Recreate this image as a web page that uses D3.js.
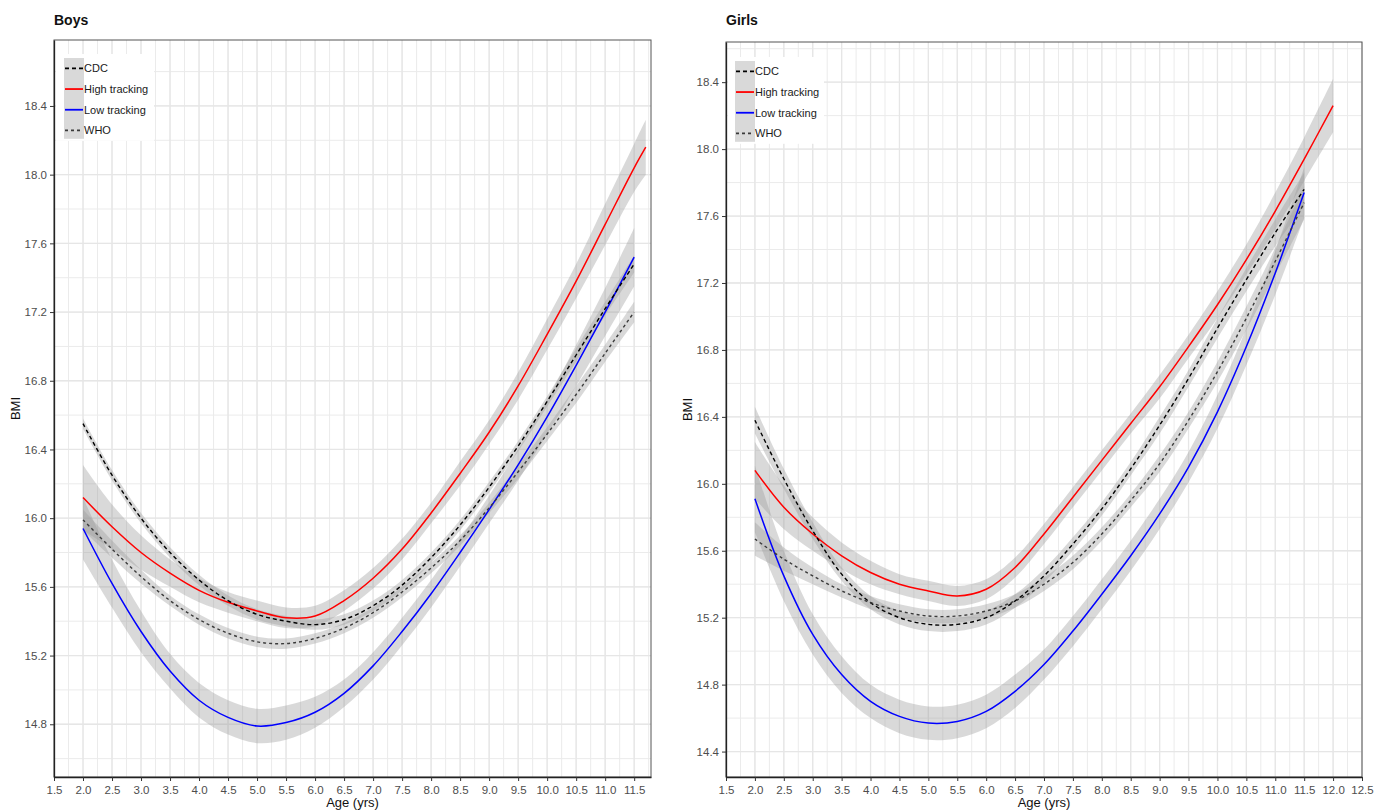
<!DOCTYPE html>
<html><head><meta charset="utf-8">
<script src="https://cdn.jsdelivr.net/npm/d3@7"></script>
<style>
html,body{margin:0;padding:0;background:#fff;}
svg{display:block;font-family:"Liberation Sans",Arial,sans-serif;}
</style></head>
<body>
<svg id="chart" width="1384" height="810"></svg>
<script>
// ---------------- DATA ----------------
const seriesNames = ["CDC", "High tracking", "Low tracking", "WHO"];

const boysAges = [2.0,2.5,3.0,3.5,4.0,4.5,5.0,5.5,6.0,6.5,7.0,7.5,8.0,8.5,9.0,9.5,10.0,10.5,11.0,11.5];
const boysHighAges = [2.0,2.5,3.0,3.5,4.0,4.5,5.0,5.5,6.0,6.5,7.0,7.5,8.0,8.5,9.0,9.5,10.0,10.5,11.0,11.5,11.7];
const boysHigh   = [16.12,15.95,15.80,15.68,15.58,15.51,15.46,15.42,15.43,15.52,15.65,15.82,16.03,16.26,16.50,16.77,17.07,17.38,17.71,18.04,18.16];
const boysHighSE = [0.19,0.13,0.10,0.08,0.07,0.06,0.06,0.06,0.06,0.06,0.06,0.06,0.06,0.07,0.07,0.08,0.09,0.10,0.12,0.14,0.16];
const boysLow    = [15.94,15.62,15.34,15.11,14.94,14.84,14.79,14.81,14.87,14.98,15.14,15.34,15.56,15.80,16.05,16.31,16.59,16.89,17.20,17.52];
const boysLowSE  = [0.18,0.14,0.12,0.10,0.10,0.10,0.10,0.10,0.09,0.08,0.08,0.08,0.08,0.08,0.08,0.09,0.10,0.12,0.14,0.17];
const boysCDC    = [16.55,16.25,16.00,15.80,15.64,15.52,15.44,15.40,15.38,15.41,15.49,15.61,15.77,15.96,16.18,16.42,16.68,16.95,17.22,17.48];
const boysCDCSE  = [0.03,0.03,0.03,0.03,0.03,0.03,0.03,0.03,0.03,0.03,0.03,0.03,0.03,0.03,0.03,0.03,0.03,0.04,0.04,0.05];
const boysWHO    = [15.99,15.82,15.66,15.52,15.41,15.33,15.28,15.27,15.30,15.36,15.45,15.57,15.71,15.87,16.06,16.27,16.49,16.72,16.96,17.20];
const boysWHOSE  = [0.06,0.05,0.04,0.03,0.03,0.03,0.03,0.03,0.03,0.03,0.03,0.03,0.03,0.03,0.03,0.04,0.04,0.05,0.05,0.06];

const girlsAges = [2.0,2.5,3.0,3.5,4.0,4.5,5.0,5.5,6.0,6.5,7.0,7.5,8.0,8.5,9.0,9.5,10.0,10.5,11.0,11.5];
const girlsHighAges = [2.0,2.5,3.0,3.5,4.0,4.5,5.0,5.5,6.0,6.5,7.0,7.5,8.0,8.5,9.0,9.5,10.0,10.5,11.0,11.5,12.0];
const girlsHigh   = [16.08,15.86,15.70,15.57,15.47,15.40,15.36,15.33,15.37,15.50,15.70,15.92,16.14,16.36,16.58,16.82,17.07,17.34,17.63,17.94,18.26];
const girlsHighSE = [0.17,0.13,0.10,0.08,0.07,0.06,0.06,0.06,0.06,0.06,0.06,0.06,0.06,0.06,0.07,0.07,0.08,0.09,0.11,0.13,0.16];
const girlsLow    = [15.91,15.45,15.10,14.86,14.70,14.61,14.57,14.58,14.64,14.76,14.92,15.12,15.34,15.57,15.82,16.10,16.43,16.82,17.26,17.74];
const girlsLowSE  = [0.20,0.15,0.12,0.11,0.10,0.10,0.10,0.10,0.10,0.10,0.09,0.09,0.09,0.09,0.09,0.09,0.10,0.11,0.13,0.15];
const girlsCDC    = [16.38,16.03,15.72,15.46,15.29,15.20,15.16,15.16,15.20,15.30,15.45,15.64,15.85,16.09,16.35,16.63,16.93,17.22,17.50,17.76];
const girlsCDCSE  = [0.08,0.06,0.05,0.04,0.04,0.04,0.04,0.04,0.04,0.04,0.04,0.04,0.04,0.04,0.05,0.05,0.06,0.07,0.08,0.10];
const girlsWHO    = [15.67,15.55,15.45,15.36,15.29,15.24,15.21,15.21,15.24,15.30,15.40,15.53,15.70,15.90,16.12,16.38,16.67,16.99,17.33,17.68];
const girlsWHOSE  = [0.10,0.07,0.05,0.04,0.04,0.04,0.04,0.04,0.04,0.04,0.04,0.04,0.04,0.04,0.05,0.05,0.06,0.07,0.08,0.10];

const boysXTicks  = [1.5,2.0,2.5,3.0,3.5,4.0,4.5,5.0,5.5,6.0,6.5,7.0,7.5,8.0,8.5,9.0,9.5,10.0,10.5,11.0,11.5];
const girlsXTicks = [1.5,2.0,2.5,3.0,3.5,4.0,4.5,5.0,5.5,6.0,6.5,7.0,7.5,8.0,8.5,9.0,9.5,10.0,10.5,11.0,11.5,12.0,12.5];
const boysYTicks  = [14.8,15.2,15.6,16.0,16.4,16.8,17.2,17.6,18.0,18.4];
const girlsYTicks = [14.4,14.8,15.2,15.6,16.0,16.4,16.8,17.2,17.6,18.0,18.4];

// ---------------- STYLES ----------------
const styles = {
  "CDC":           {color:"#000000", dash:"4,3", width:1.4},
  "High tracking": {color:"#ff0000", dash:null,  width:1.5},
  "Low tracking":  {color:"#0000ff", dash:null,  width:1.5},
  "WHO":           {color:"#3a3a3a", dash:"3,3", width:1.4}
};

const svg = d3.select("#chart");

function drawPanel(cfg) {
  const {title, left, right, top, bottom, xDomain, yDomain, xTicks, yTicks, series, legend} = cfg;
  const x = d3.scaleLinear().domain(xDomain).range([left, right]);
  const y = d3.scaleLinear().domain(yDomain).range([bottom, top]);
  const g = svg.append("g");
  const clipId = "clip-" + title;
  svg.append("clipPath").attr("id", clipId).append("rect")
    .attr("x", left).attr("y", top).attr("width", right-left).attr("height", bottom-top);

  // grid (minor then major)
  const xMinor = d3.range(xDomain[0], xDomain[1] + 1e-9, 0.25);
  const yMinor = d3.range(Math.ceil(yDomain[0]*5)/5, yDomain[1], 0.2);
  g.append("g").selectAll("line").data(xMinor).join("line")
    .attr("x1", d=>x(d)).attr("x2", d=>x(d)).attr("y1", top).attr("y2", bottom)
    .attr("stroke", "#ebebeb").attr("stroke-width", 1);
  g.append("g").selectAll("line").data(yMinor).join("line")
    .attr("x1", left).attr("x2", right).attr("y1", d=>y(d)).attr("y2", d=>y(d))
    .attr("stroke", "#ebebeb").attr("stroke-width", 1);
  g.append("g").selectAll("line").data(xTicks).join("line")
    .attr("x1", d=>x(d)).attr("x2", d=>x(d)).attr("y1", top).attr("y2", bottom)
    .attr("stroke", "#e6e6e6").attr("stroke-width", 1.3);
  g.append("g").selectAll("line").data(yTicks).join("line")
    .attr("x1", left).attr("x2", right).attr("y1", d=>y(d)).attr("y2", d=>y(d))
    .attr("stroke", "#e6e6e6").attr("stroke-width", 1.3);

  const plot = g.append("g").attr("clip-path", `url(#${clipId})`);
  // bands
  series.forEach(s => {
    const pts = s.ages.map((a,i)=>({a, v:s.values[i], se:s.se[i]}));
    const area = d3.area().curve(d3.curveCatmullRom.alpha(0.5))
      .x(d=>x(d.a)).y0(d=>y(d.v - d.se)).y1(d=>y(d.v + d.se));
    plot.append("path").datum(pts).attr("d", area)
      .attr("fill", "#9a9a9a").attr("fill-opacity", 0.38);
  });
  // lines
  series.forEach(s => {
    const st = styles[s.name];
    const pts = s.ages.map((a,i)=>({a, v:s.values[i]}));
    const line = d3.line().curve(d3.curveCatmullRom.alpha(0.5)).x(d=>x(d.a)).y(d=>y(d.v));
    plot.append("path").datum(pts).attr("d", line)
      .attr("fill", "none").attr("stroke", st.color).attr("stroke-width", st.width)
      .attr("stroke-dasharray", st.dash);
  });

  // panel border
  g.append("rect").attr("x", left).attr("y", top).attr("width", right-left).attr("height", bottom-top)
    .attr("fill", "none").attr("stroke", "#555").attr("stroke-width", 1);

  // axes
  const xAxis = d3.axisBottom(x).tickValues(xTicks).tickFormat(d3.format(".1f")).tickSize(4).tickSizeOuter(0);
  const ya = d3.axisLeft(y).tickValues(yTicks).tickFormat(d3.format(".1f")).tickSize(4).tickSizeOuter(0);
  const gx = svg.append("g").attr("transform", `translate(0,${bottom})`).call(xAxis);
  const gy = svg.append("g").attr("transform", `translate(${left},0)`).call(ya);
  [gx, gy].forEach(ax => {
    ax.select(".domain").attr("stroke", "#222").attr("stroke-width", 1.3);
    ax.selectAll(".tick line").attr("stroke", "#333");
    ax.selectAll(".tick text").attr("fill", "#4d4d4d").attr("font-size", 11.5)
      .attr("font-family", "Liberation Sans, Arial, sans-serif");
  });
  gx.selectAll(".tick text").attr("dy", "0.9em");

  // titles
  svg.append("text").attr("x", left).attr("y", 25).text(title)
    .attr("font-size", 14).attr("font-weight", "bold").attr("fill", "#111");
  svg.append("text").attr("x", (left+right)/2).attr("y", 807).attr("text-anchor", "middle")
    .text("Age (yrs)").attr("font-size", 13).attr("fill", "#111");
  svg.append("text").attr("transform", `translate(${left-34},${(top+bottom)/2}) rotate(-90)`)
    .attr("text-anchor", "middle").text("BMI").attr("font-size", 13).attr("fill", "#111");

  // legend
  const L = legend;
  svg.append("rect").attr("x", left+2).attr("y", L.y0 - 4).attr("width", L.w).attr("height", L.step*4 + 4)
    .attr("fill", "#fff");
  svg.append("rect").attr("x", L.kx).attr("y", L.y0).attr("width", 20).attr("height", L.step*4 - 2)
    .attr("fill", "#d9d9d9");
  seriesNames.forEach((n,i) => {
    const st = styles[n];
    const cy = L.y0 + L.step*(i+0.5);
    svg.append("line").attr("x1", L.kx+1).attr("x2", L.kx+19).attr("y1", cy).attr("y2", cy)
      .attr("stroke", st.color).attr("stroke-width", st.width + 0.3).attr("stroke-dasharray", st.dash);
    svg.append("text").attr("x", L.kx+20).attr("y", cy).attr("dy", "0.35em").text(n)
      .attr("font-size", 11).attr("fill", "#1a1a1a");
  });
}

drawPanel({
  title: "Boys", left: 54, right: 651, top: 40, bottom: 777,
  xDomain: [1.5, 11.79], yDomain: [14.493, 18.784],
  xTicks: boysXTicks, yTicks: boysYTicks,
  series: [
    {name:"High tracking", ages: boysHighAges, values: boysHigh, se: boysHighSE},
    {name:"Low tracking", ages: boysAges, values: boysLow, se: boysLowSE},
    {name:"CDC", ages: boysAges, values: boysCDC, se: boysCDCSE},
    {name:"WHO", ages: boysAges, values: boysWHO, se: boysWHOSE}
  ],
  legend: {kx: 64, y0: 58, step: 20.7, w: 98}
});

drawPanel({
  title: "Girls", left: 726, right: 1362, top: 42, bottom: 777,
  xDomain: [1.5, 12.5], yDomain: [14.248, 18.64],
  xTicks: girlsXTicks, yTicks: girlsYTicks,
  series: [
    {name:"High tracking", ages: girlsHighAges, values: girlsHigh, se: girlsHighSE},
    {name:"Low tracking", ages: girlsAges, values: girlsLow, se: girlsLowSE},
    {name:"CDC", ages: girlsAges, values: girlsCDC, se: girlsCDCSE},
    {name:"WHO", ages: girlsAges, values: girlsWHO, se: girlsWHOSE}
  ],
  legend: {kx: 735, y0: 61, step: 20.7, w: 96}
});
</script>
</body></html>
